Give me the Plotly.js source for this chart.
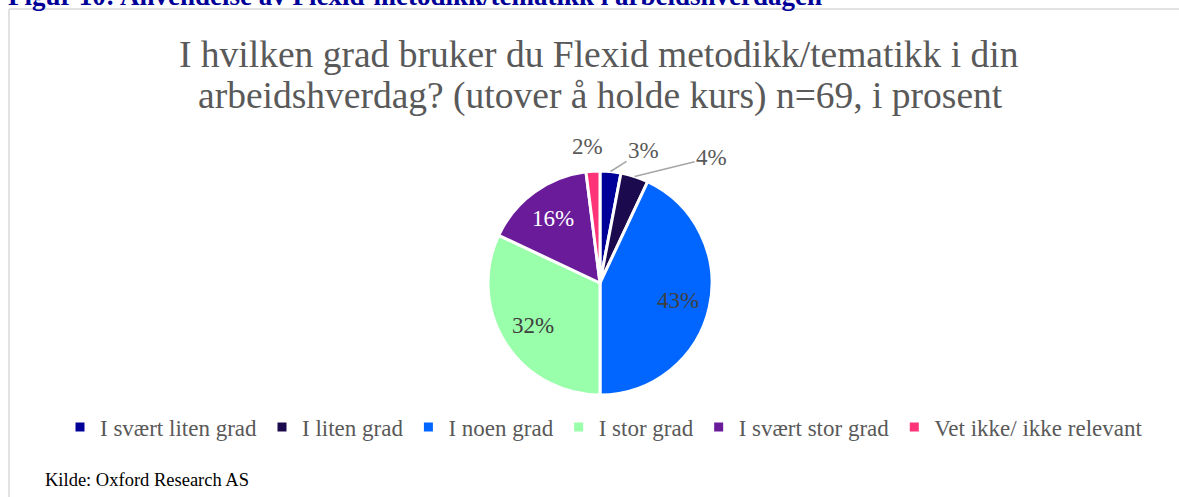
<!DOCTYPE html>
<html>
<head>
<meta charset="utf-8">
<script src="https://cdn.plot.ly/plotly-3.0.1.min.js"></script>
<style>
html,body{margin:0;padding:0;background:#fff;overflow:hidden;}
#chart{width:1179px;height:497px;}
</style>
</head>
<body>
<div id="chart"></div>
<script>
// ---- data ----
const categories = ["I svært liten grad", "I liten grad", "I noen grad", "I stor grad", "I svært stor grad", "Vet ikke/ ikke relevant"];
const percentValues = [3, 4, 43, 32, 16, 2];

// ---- styles ----
const sliceColors = ["#000099", "#1c0a4e", "#0066ff", "#99ffaa", "#6a1b9a", "#ff3377"];
const labelColors = ["#595959", "#595959", "#404040", "#404040", "#ffffff", "#595959"];
const labelInside = [false, false, true, true, true, false];
// pixel offsets of outside labels from the slice edge (label placement, style only)
const outsideOffsets = [[33, -21], [77, -19], null, null, null, [-5, -25]];
const showLeader = [true, true, false, false, false, false];

const SERIF = "Liberation Serif, Times New Roman, serif";
const W = 1179, H = 497;
const cx = 600, cy = 283, r = 112;

const trace = {
  type: "pie",
  labels: categories,
  values: percentValues,
  sort: false,
  direction: "clockwise",
  rotation: 0,
  marker: {colors: sliceColors, line: {color: "#ffffff", width: 3}},
  textinfo: "none",
  domain: {x: [(cx - r) / W, (cx + r) / W], y: [1 - (cy + r) / H, 1 - (cy - r) / H]},
  automargin: false,
  hoverinfo: "label+percent"
};

// data labels, positioned from the slice mid-angles computed from the values
const total = percentValues.reduce((a, b) => a + b, 0);
const labelAnnotations = [];
let cum = 0;
percentValues.forEach((v, i) => {
  const mid = (cum + v / 2) / total * 2 * Math.PI;
  cum += v;
  const sx = Math.sin(mid), sy = -Math.cos(mid);
  if (labelInside[i]) {
    const d = 0.71 * r;
    labelAnnotations.push({
      text: v + "%", xref: "paper", yref: "paper",
      x: (cx + d * sx) / W, y: 1 - (cy + d * sy) / H,
      xanchor: "center", yanchor: "middle", showarrow: false,
      font: {family: SERIF, size: 23, color: labelColors[i]}
    });
  } else {
    const off = outsideOffsets[i];
    labelAnnotations.push({
      text: v + "%", xref: "paper", yref: "paper",
      x: (cx + r * sx) / W, y: 1 - (cy + r * sy) / H,
      ax: off[0], ay: off[1], axref: "pixel", ayref: "pixel",
      showarrow: true, arrowhead: 0, arrowwidth: 1.5, standoff: 0,
      arrowcolor: showLeader[i] ? "#a6a6a6" : "rgba(0,0,0,0)",
      font: {family: SERIF, size: 23, color: labelColors[i]}
    });
  }
});

const layout = {
  width: W, height: H,
  margin: {l: 0, r: 0, t: 0, b: 0},
  paper_bgcolor: "#ffffff",
  font: {family: SERIF, color: "#595959"},
  showlegend: true,
  legend: {
    orientation: "h",
    x: 604 / W, xanchor: "center",
    y: 1 - 427 / H, yanchor: "middle",
    font: {family: SERIF, size: 23, color: "#595959"},
    itemwidth: 30,
    traceorder: "normal"
  },
  shapes: [
    {type: "line", xref: "paper", yref: "paper", x0: 9 / W, x1: 1, y0: 1 - 9 / H, y1: 1 - 9 / H, line: {color: "#d9d9d9", width: 1.5}},
    {type: "line", xref: "paper", yref: "paper", x0: 9 / W, x1: 9 / W, y0: 0, y1: 1 - 9 / H, line: {color: "#d9d9d9", width: 1.5}}
  ],
  annotations: [
    {text: "<b>Figur 10: Anvendelse av Flexid-metodikk/tematikk i arbeidshverdagen</b>", xref: "paper", yref: "paper",
     x: 6 / W, xanchor: "left", y: 1 + 4 / H, yanchor: "middle", showarrow: false,
     font: {family: SERIF, size: 27, color: "#000099"}},
    {text: "I hvilken grad bruker du Flexid metodikk/tematikk i din", xref: "paper", yref: "paper",
     x: 599 / W, xanchor: "center", y: 1 - 54 / H, yanchor: "middle", showarrow: false,
     font: {family: SERIF, size: 37.5, color: "#595959"}},
    {text: "arbeidshverdag? (utover å holde kurs) n=69, i prosent", xref: "paper", yref: "paper",
     x: 600 / W, xanchor: "center", y: 1 - 96 / H, yanchor: "middle", showarrow: false,
     font: {family: SERIF, size: 37.5, color: "#595959"}},
    {text: "Kilde: Oxford Research AS", xref: "paper", yref: "paper",
     x: 43 / W, xanchor: "left", y: 1 - 480 / H, yanchor: "middle", showarrow: false,
     font: {family: SERIF, size: 18.5, color: "#000000"}}
  ].concat(labelAnnotations)
};

Plotly.newPlot("chart", [trace], layout, {displayModeBar: false, staticPlot: true});
</script>
</body>
</html>
